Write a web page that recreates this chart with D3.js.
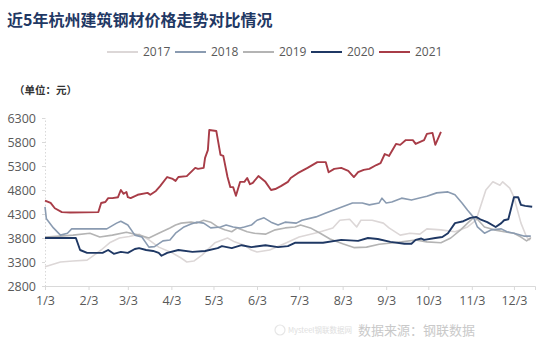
<!DOCTYPE html>
<html>
<head>
<meta charset="utf-8">
<script src="https://cdn.jsdelivr.net/npm/d3@7"></script>
<style>
  html, body { margin: 0; padding: 0; background: #fff; }
  svg { display: block; }
</style>
</head>
<body>
<svg id="chart" width="548" height="346"></svg>
<script>
// ---- data ----
const years = ["2017", "2018", "2019", "2020", "2021"];
const yTicks = [2800, 3300, 3800, 4300, 4800, 5300, 5800, 6300];
const xTickDates = ["01-03", "02-03", "03-03", "04-03", "05-03", "06-03",
                    "07-03", "08-03", "09-03", "10-03", "11-03", "12-03"];
const xTickLabels = ["1/3", "2/3", "3/3", "4/3", "5/3", "6/3",
                     "7/3", "8/3", "9/3", "10/3", "11/3", "12/3"];

const price2017 = [
  ["01-03",3200],["01-14",3300],["01-23",3320],["02-02",3340],["02-05",3400],
  ["02-12",3550],["02-18",3700],["02-25",3800],["03-04",3830],["03-11",3880],
  ["03-18",3760],["03-25",3610],["04-03",3500],["04-09",3400],["04-14",3300],
  ["04-19",3320],["04-25",3450],["04-30",3590],["05-04",3700],["05-13",3800],
  ["05-18",3720],["05-25",3650],["05-30",3550],["06-03",3510],["06-12",3550],
  ["06-24",3700],["07-03",3820],["07-17",3920],["07-27",4010],["08-01",4170],
  ["08-08",4190],["08-13",4030],["08-16",4170],["08-24",4170],["09-01",4110],
  ["09-05",4010],["09-13",3860],["09-20",3900],["09-27",3880],["10-02",3990],
  ["10-12",3970],["10-22",3930],["10-31",4030],["11-06",4170],["11-10",4530],
  ["11-13",4800],["11-18",4970],["11-23",4900],["11-25",4970],["11-30",4840],
  ["12-03",4650],["12-08",4110],["12-12",3820],["12-14",3760],["12-15",3820]
];

const price2018 = [
  ["01-03",4450],["01-04",4200],["01-09",4010],["01-14",3860],["01-19",3900],
  ["01-22",3990],["02-16",3990],["02-23",4110],["02-26",4150],["03-03",4070],
  ["03-08",3860],["03-13",3820],["03-18",3610],["03-22",3620],["03-28",3740],
  ["04-02",3760],["04-06",3900],["04-12",4030],["04-17",4090],["04-21",4130],
  ["04-26",4110],["05-01",4010],["05-08",4030],["05-12",4070],["05-17",4030],
  ["05-22",4010],["05-25",4030],["05-30",4070],["06-03",4170],["06-08",4220],
  ["06-13",4130],["06-18",4070],["06-23",4130],["07-01",4110],["07-05",4170],
  ["07-15",4240],["07-22",4320],["08-01",4430],["08-10",4530],["08-17",4530],
  ["08-22",4490],["08-29",4530],["08-31",4630],["09-03",4530],["09-07",4550],
  ["09-14",4630],["09-21",4590],["09-26",4630],["10-02",4670],["10-09",4740],
  ["10-17",4760],["10-22",4700],["10-27",4530],["10-31",4380],["11-04",4240],
  ["11-07",4030],["11-12",3900],["11-17",3970],["11-24",3990],["11-28",3930],
  ["12-03",3900],["12-10",3840],["12-15",3840]
];

const price2019 = [
  ["01-03",3820],["01-14",3840],["01-23",3860],["02-04",3900],["02-11",3820],
  ["02-20",3860],["03-02",3920],["03-11",3860],["03-18",3800],["03-25",3900],
  ["04-02",4010],["04-06",4070],["04-10",4110],["04-17",4130],["04-21",4110],
  ["04-26",4170],["05-01",4130],["05-06",4030],["05-11",3970],["05-16",3930],
  ["05-20",4010],["05-27",3930],["06-01",3900],["06-09",3880],["06-16",3970],
  ["06-23",4010],["06-30",4030],["07-04",4070],["07-11",4010],["07-18",3900],
  ["07-25",3780],["08-03",3680],["08-11",3600],["08-20",3610],["08-29",3670],
  ["09-05",3690],["09-14",3720],["09-24",3760],["10-02",3720],["10-12",3700],
  ["10-19",3800],["10-26",3970],["10-31",4110],["11-04",4220],["11-07",4190],
  ["11-12",4030],["11-19",3970],["11-26",3930],["12-03",3900],["12-08",3820],
  ["12-12",3740],["12-15",3800]
];

const price2020 = [
  ["01-03",3800],["01-25",3800],["01-28",3550],["02-02",3490],["02-13",3490],
  ["02-17",3550],["02-21",3470],["02-26",3510],["03-03",3490],["03-08",3570],
  ["03-11",3590],["03-16",3550],["03-21",3530],["03-25",3490],["03-27",3430],
  ["03-31",3490],["04-08",3550],["04-18",3510],["04-27",3530],["05-06",3590],
  ["05-09",3630],["05-16",3590],["05-23",3650],["05-30",3610],["06-09",3650],
  ["06-18",3610],["06-25",3630],["06-30",3700],["07-10",3700],["07-20",3700],
  ["08-02",3760],["08-14",3740],["08-21",3800],["08-28",3780],["09-06",3720],
  ["09-16",3680],["09-21",3680],["09-24",3760],["09-28",3790],["09-30",3760],
  ["10-08",3800],["10-13",3820],["10-17",3900],["10-22",4110],["10-28",4150],
  ["11-02",4220],["11-06",4240],["11-09",4190],["11-14",4130],["11-20",4030],
  ["11-24",4110],["11-26",4170],["11-29",4190],["12-03",4650],["12-06",4650],
  ["12-08",4490],["12-11",4470],["12-16",4450]
];

const price2021 = [
  ["01-03",4580],["01-07",4530],["01-10",4420],["01-15",4340],["01-21",4330],
  ["02-10",4340],["02-12",4530],["02-15",4550],["02-17",4630],["02-20",4630],
  ["02-24",4650],["02-26",4800],["02-28",4720],["03-02",4760],["03-03",4650],
  ["03-05",4630],["03-10",4700],["03-17",4740],["03-19",4700],["03-23",4780],
  ["03-26",4880],["03-31",5070],["04-04",5030],["04-06",4990],["04-08",5070],
  ["04-14",5090],["04-20",5260],["04-22",5240],["04-26",5260],["04-27",5470],
  ["04-29",5630],["04-30",6050],["05-05",6030],["05-08",5530],["05-10",5510],
  ["05-13",5070],["05-15",4860],["05-17",4860],["05-19",4680],["05-22",4970],
  ["05-25",4970],["05-27",5050],["05-29",4920],["05-31",4950],["06-04",5090],
  ["06-09",4970],["06-13",4800],["06-16",4820],["06-20",4880],["06-25",4970],
  ["06-27",5050],["07-02",5150],["07-09",5260],["07-16",5380],["07-22",5380],
  ["07-24",5170],["07-28",5240],["08-02",5260],["08-07",5200],["08-11",5070],
  ["08-14",5170],["08-18",5220],["08-22",5240],["08-27",5320],["08-30",5360],
  ["09-02",5550],["09-05",5510],["09-10",5760],["09-13",5740],["09-17",5840],
  ["09-22",5840],["09-24",5760],["09-30",5840],["10-02",5970],["10-06",5990],
  ["10-08",5740],["10-12",6010]
];

// ---- look ----
const seriesColors = {
  "2017": "#dcd7d7",
  "2018": "#8a9bb1",
  "2019": "#b4b4b4",
  "2020": "#1f3864",
  "2021": "#a83c47"
};
const seriesWidth = { "2017": 1.6, "2018": 1.6, "2019": 1.6, "2020": 1.9, "2021": 1.9 };
const seriesData = {
  "2017": price2017, "2018": price2018, "2019": price2019,
  "2020": price2020, "2021": price2021
};

const parseMD = d3.timeParse("%Y-%m-%d");
const toDate = md => parseMD("2021-" + md);

const svg = d3.select("#chart");
const latin = "'Open Sans', 'Liberation Sans', sans-serif";
const cjk = "'Noto Sans CJK SC', sans-serif";

const x = d3.scaleTime()
  .domain([toDate("01-03"), toDate("12-18")])
  .range([45, 535]);
const y = d3.scaleLinear()
  .domain([2800, 6300])
  .range([286, 118]);

// title
svg.append("text")
  .attr("x", 7).attr("y", 26)
  .attr("font-family", cjk)
  .attr("font-size", 16)
  .attr("font-weight", 700)
  .attr("fill", "#1f3864")
  .text("近5年杭州建筑钢材价格走势对比情况");

// unit note
svg.append("text")
  .attr("x", 14).attr("y", 94)
  .attr("font-family", cjk)
  .attr("font-size", 10.5)
  .attr("font-weight", 700)
  .attr("fill", "#333")
  .text("（单位：元）");

// legend
const legend = svg.append("g").attr("transform", "translate(107,52)");
years.forEach((yr, i) => {
  const g = legend.append("g").attr("transform", `translate(${i * 68},0)`);
  g.append("line")
    .attr("x1", 0).attr("x2", 31).attr("y1", 0).attr("y2", 0)
    .attr("stroke", seriesColors[yr])
    .attr("stroke-width", 2);
  g.append("text")
    .attr("x", 36).attr("y", 0)
    .attr("dy", "0.35em")
    .attr("font-family", latin)
    .attr("font-size", 12)
    .attr("fill", "#595959")
    .text(yr);
});

// x axis
const xAxis = d3.axisBottom(x)
  .tickValues(xTickDates.map(toDate))
  .tickFormat((d, i) => xTickLabels[i])
  .tickSize(4)
  .tickPadding(6);
const gx = svg.append("g")
  .attr("transform", "translate(0,286)")
  .call(xAxis);
gx.select(".domain").attr("stroke", "#d9d9d9");
gx.selectAll(".tick line").attr("stroke", "#d9d9d9");
gx.selectAll(".tick text")
  .attr("font-family", latin)
  .attr("font-size", 12.5)
  .attr("fill", "#595959");

// y axis
const yAxis = d3.axisLeft(y)
  .tickValues(yTicks)
  .tickFormat(d3.format("d"))
  .tickSize(3)
  .tickPadding(6);
const gy = svg.append("g")
  .attr("transform", "translate(45,0)")
  .call(yAxis);
gy.select(".domain")
  .attr("stroke", "#d9d9d9")
  .attr("stroke-dasharray", "1.5,2");
gy.selectAll(".tick line").attr("stroke", "#d9d9d9");
gy.selectAll(".tick text")
  .attr("font-family", latin)
  .attr("font-size", 12.5)
  .attr("fill", "#595959");

// series lines
const line = d3.line()
  .x(d => x(toDate(d[0])))
  .y(d => y(d[1]));

["2017", "2019", "2018", "2020", "2021"].forEach(yr => {
  svg.append("path")
    .datum(seriesData[yr])
    .attr("fill", "none")
    .attr("stroke", seriesColors[yr])
    .attr("stroke-width", seriesWidth[yr])
    .attr("stroke-linejoin", "round")
    .attr("d", line);
});

// source / watermark
svg.append("circle")
  .attr("cx", 280).attr("cy", 330).attr("r", 5)
  .attr("fill", "none")
  .attr("stroke", "#e6e6e6")
  .attr("stroke-width", 1.2);
svg.append("text")
  .attr("x", 288).attr("y", 333)
  .attr("font-family", cjk)
  .attr("font-size", 7.5)
  .attr("fill", "#dedede")
  .text("Mysteel钢联数据网");
svg.append("text")
  .attr("x", 358).attr("y", 335)
  .attr("font-family", cjk)
  .attr("font-size", 13)
  .attr("fill", "#c9c9c9")
  .text("数据来源：钢联数据");
</script>
</body>
</html>
